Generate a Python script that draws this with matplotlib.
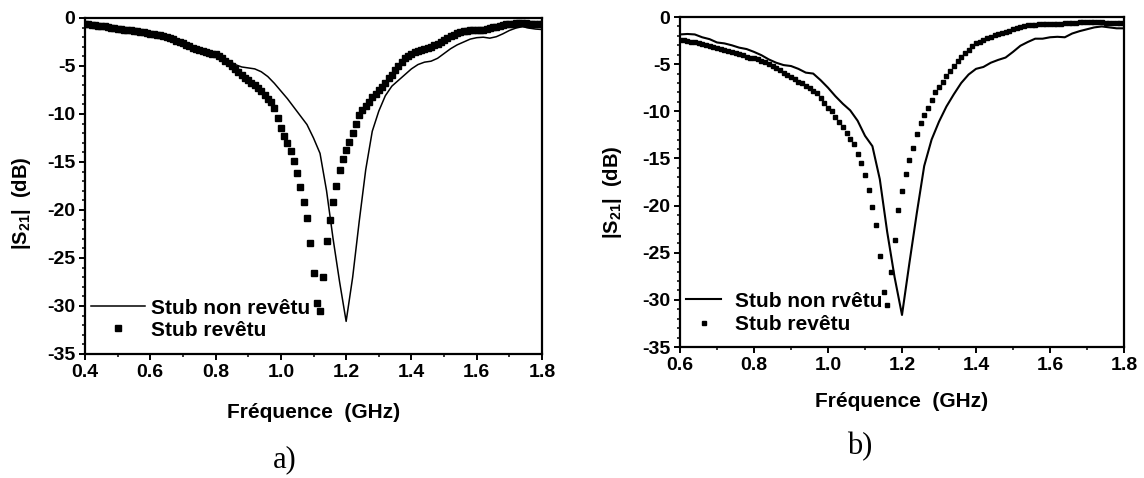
import numpy as np
import matplotlib
matplotlib.use("Agg")
import matplotlib.pyplot as plt
from matplotlib.ticker import MultipleLocator, FormatStrFormatter

plt.rcParams['font.family'] = ['Liberation Sans', 'DejaVu Sans']
plt.rcParams['font.weight'] = 'bold'
plt.rcParams['axes.unicode_minus'] = False
plt.rcParams['mathtext.fontset'] = 'custom'
plt.rcParams['mathtext.rm'] = 'Liberation Sans:bold'
plt.rcParams['mathtext.it'] = 'Liberation Sans:bold'
plt.rcParams['mathtext.bf'] = 'Liberation Sans:bold'

# ---------------- data: panel a) ----------------
freq_a_pts = np.linspace(0.40, 1.80, 141)     # sweep of "Stub revêtu" markers (GHz)
s21_a_revetu = [
    -0.6, -0.65, -0.7, -0.75, -0.8, -0.82, -0.88, -0.95, -1.0, -1.05,
    -1.1, -1.15, -1.2, -1.25, -1.3, -1.35, -1.4, -1.45, -1.5, -1.6,
    -1.65, -1.7, -1.75, -1.8, -1.9, -1.95, -2.05, -2.2, -2.35, -2.5,
    -2.65, -2.8, -2.95, -3.1, -3.2, -3.3, -3.4, -3.5, -3.6, -3.7,
    -3.8, -4.0, -4.2, -4.45, -4.7, -5.0, -5.3, -5.6, -5.9, -6.2,
    -6.5, -6.75, -7.0, -7.3, -7.6, -8.0, -8.4, -8.8, -9.4, -10.4,
    -11.5, -12.3, -13.0, -13.9, -14.9, -16.1, -17.6, -19.2, -20.8, -23.4,
    -26.6, -29.7, -30.5, -27.0, -23.2, -21.0, -19.2, -17.5, -15.8, -14.7,
    -13.8, -12.9, -12.0, -11.0, -10.1, -9.55, -9.2, -8.7, -8.2, -7.9,
    -7.5, -7.2, -6.8, -6.3, -5.9, -5.4, -5.0, -4.6, -4.2, -3.95,
    -3.7, -3.55, -3.45, -3.35, -3.25, -3.15, -3.0, -2.85, -2.7, -2.5,
    -2.3, -2.1, -1.9, -1.75, -1.6, -1.5, -1.4, -1.35, -1.3, -1.3,
    -1.3, -1.3, -1.25, -1.15, -1.05, -0.95, -0.9, -0.8, -0.72, -0.65,
    -0.6, -0.58, -0.55, -0.55, -0.55, -0.55, -0.58, -0.6, -0.6, -0.6,
    -0.6,
]
freq_a_line = np.linspace(0.40, 1.80, 71)     # sweep of "Stub non revêtu" line (GHz)
s21_a_non_revetu = [
    -0.6, -0.7, -0.75, -0.85, -0.95, -1.1, -1.2, -1.3, -1.4, -1.5,
    -1.6, -1.75, -1.9, -2.0, -2.3, -2.6, -2.9, -3.1, -3.3, -3.5,
    -3.75, -4.05, -4.45, -4.85, -5.1, -5.2, -5.3, -5.6, -6.1, -6.8,
    -7.6, -8.4, -9.3, -10.2, -11.1, -12.5, -14.1, -18.0, -23.0, -27.5,
    -31.6, -27.0, -21.2, -15.8, -11.8, -9.7, -8.1, -7.1, -6.5, -5.9,
    -5.3, -4.85, -4.6, -4.5, -4.2, -3.7, -3.2, -2.8, -2.5, -2.2,
    -2.05, -2.0, -2.1, -1.95, -1.65, -1.3, -1.05, -0.9, -1.05, -1.15,
    -1.2,
]

# ---------------- data: panel b) ----------------
freq_b_pts = np.linspace(0.60, 1.80, 121)
s21_b_revetu = [
    -2.4, -2.45, -2.5, -2.6, -2.65, -2.75, -2.85, -2.95, -3.05, -3.2,
    -3.3, -3.4, -3.5, -3.6, -3.75, -3.85, -3.95, -4.05, -4.2, -4.3,
    -4.4, -4.5, -4.65, -4.8, -5.0, -5.2, -5.4, -5.65, -5.9, -6.15,
    -6.4, -6.6, -6.85, -7.05, -7.3, -7.55, -7.8, -8.1, -8.6, -9.1,
    -9.6, -10.0, -10.6, -11.1, -11.7, -12.3, -12.9, -13.5, -14.5, -15.5,
    -16.8, -18.3, -20.1, -22.1, -25.4, -29.2, -30.5, -27.0, -23.7, -20.5,
    -18.5, -16.6, -15.2, -13.9, -12.4, -11.2, -10.4, -9.6, -8.8, -8.0,
    -7.4, -6.9, -6.3, -5.7, -5.2, -4.7, -4.2, -3.85, -3.45, -3.05,
    -2.75, -2.6, -2.4, -2.25, -2.1, -1.95, -1.8, -1.7, -1.6, -1.45,
    -1.3, -1.2, -1.05, -1.0, -0.9, -0.85, -0.8, -0.75, -0.75, -0.75,
    -0.75, -0.75, -0.72, -0.7, -0.68, -0.65, -0.62, -0.6, -0.55, -0.5,
    -0.5, -0.5, -0.52, -0.55, -0.58, -0.6, -0.62, -0.62, -0.6, -0.6,
    -0.6,
]
freq_b_line = np.linspace(0.60, 1.80, 61)
s21_b_non_revetu = [
    -1.85, -1.8, -1.85, -2.15, -2.35, -2.7, -2.8, -3.0, -3.25, -3.4,
    -3.7, -4.05, -4.5, -4.85, -5.1, -5.2, -5.5, -5.9, -6.0, -6.7,
    -7.5, -8.4, -9.2, -9.9, -11.0, -12.6, -13.7, -17.2, -22.8, -27.6,
    -31.6, -26.1, -20.8, -15.8, -13.0, -11.1, -9.5, -8.2, -7.0, -6.1,
    -5.5, -5.3, -4.85, -4.55, -4.3, -3.7, -3.05, -2.65, -2.3, -2.3,
    -2.15, -2.1, -2.15, -1.75, -1.5, -1.3, -1.1, -1.0, -1.1, -1.2,
    -1.2,
]

xticks_a = [0.4, 0.6, 0.8, 1.0, 1.2, 1.4, 1.6, 1.8]
xticks_b = [0.6, 0.8, 1.0, 1.2, 1.4, 1.6, 1.8]
yticks = [0, -5, -10, -15, -20, -25, -30, -35]
labels_a = ['Stub non revêtu', 'Stub revêtu']
labels_b = ['Stub non rvêtu', 'Stub revêtu']

W, H = 1144, 478
fig = plt.figure(figsize=(W / 100, H / 100), dpi=100)
ax1 = fig.add_axes([85 / W, 1 - 354 / H, 457 / W, 336 / H])
ax2 = fig.add_axes([680 / W, 1 - 347 / H, 444 / W, 330 / H])


def style(ax, xlim, xticks, ylab_x, ylab_y, xlab_y):
    ax.set_xlim(*xlim)
    ax.set_ylim(-35, 0)
    ax.set_xticks(xticks)
    ax.set_yticks(yticks)
    ax.xaxis.set_minor_locator(MultipleLocator(0.1))
    ax.yaxis.set_minor_locator(MultipleLocator(1))
    ax.xaxis.set_major_formatter(FormatStrFormatter('%.1f'))
    ax.yaxis.set_major_formatter(FormatStrFormatter('%d'))
    for sp in ax.spines.values():
        sp.set_linewidth(1.6)
    ax.tick_params(which='major', direction='out', length=4, width=1.4,
                   labelsize=14, pad=3)
    ax.tick_params(which='minor', direction='out', length=2.2, width=1.1)
    ax.tick_params(top=False, right=False)
    for lab in ax.get_xticklabels() + ax.get_yticklabels():
        lab.set_fontweight('bold')
    ax.set_xlabel('Fréquence  (GHz)', fontsize=15, fontweight='bold', va='center')
    ax.xaxis.set_label_coords(0.5, xlab_y)
    ax.set_ylabel('|S$_{21}$|  (dB)', fontsize=14.5, fontweight='bold', va='center')
    ax.yaxis.set_label_coords(ylab_x, ylab_y)


# panel a
ax1.plot(freq_a_line, s21_a_non_revetu, color='black', lw=1.1, label=labels_a[0])
ax1.plot(freq_a_pts, s21_a_revetu, linestyle='none', marker='s', ms=4.0,
         color='black', mec='black', label=labels_a[1])
style(ax1, (0.4, 1.8), xticks_a, -0.138, 0.45, -0.173)
leg1 = ax1.legend(loc='upper left', bbox_to_anchor=(0.0125, 0.165), frameon=False,
                  borderpad=0, borderaxespad=0, handlelength=2.6, handletextpad=0.3,
                  labelspacing=0.15, numpoints=1, prop={'size': 15, 'weight': 'bold'})

# panel b
ax2.plot(freq_b_line, s21_b_non_revetu, color='black', lw=1.5, label=labels_b[0])
ax2.plot(freq_b_pts, s21_b_revetu, linestyle='none', marker='s', ms=2.3,
         color='black', mec='black', label=labels_b[1])
style(ax2, (0.6, 1.8), xticks_b, -0.153, 0.47, -0.166)
leg2 = ax2.legend(loc='upper left', bbox_to_anchor=(0.0135, 0.168), frameon=False,
                  borderpad=0, borderaxespad=0, handlelength=1.7, handletextpad=0.65,
                  labelspacing=0.22, numpoints=1, prop={'size': 15, 'weight': 'bold'})

fig.text(285 / W, 1 - 460 / H, 'a)', ha='center', va='center',
         family=['Liberation Serif', 'DejaVu Serif'], fontweight='normal', fontsize=22)
fig.text(860 / W, 1 - 447 / H, 'b)', ha='center', va='center',
         family=['Liberation Serif', 'DejaVu Serif'], fontweight='normal', fontsize=22)

fig.savefig('out.png', dpi=100, facecolor='white')
